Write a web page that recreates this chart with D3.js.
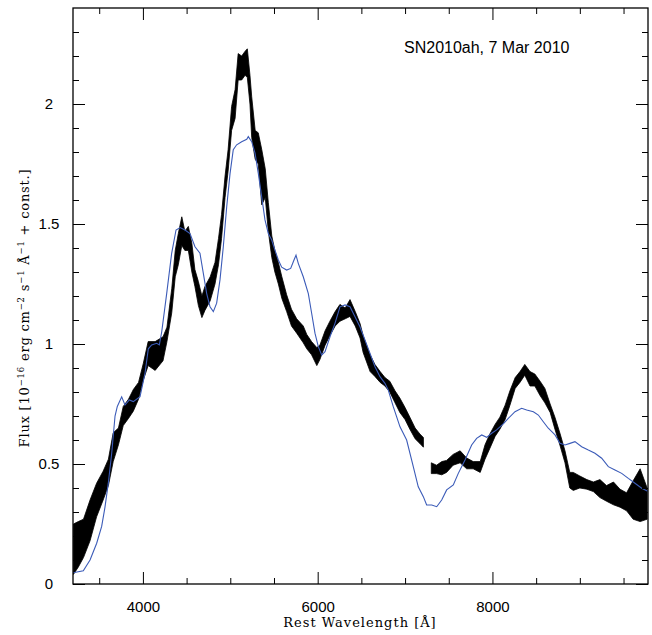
<!DOCTYPE html>
<html lang="en">
<head>
  <meta charset="UTF-8">
  <title>SN2010ah spectrum</title>
  <script src="https://cdn.jsdelivr.net/npm/d3@7.8.5/dist/d3.min.js"></script>
  <style>
    body { margin: 0; background: #fff; }
    .tick text { font-family: "Liberation Sans", Arial, sans-serif; font-size: 15px; fill: #000; }
    .tick line { stroke: #000; stroke-width: 1; }
    .lab { font-family: "DejaVu Serif", serif; font-size: 13px; }
  </style>
</head>
<body>
  <svg id="chart" width="652" height="635"></svg>
  <script>
    // observed spectrum: wavelength and the low/high edge of the noisy trace (null = gap)
    const specWave = [3205, 3260, 3320, 3395, 3470, 3545, 3605, 3660, 3720, 3775, 3835, 3890, 3950, 4005, 4060, 4140, 4230, 4275, 4330, 4370, 4405, 4445, 4480, 4520, 4560, 4595, 4635, 4675, 4710, 4770, 4825, 4865, 4900, 4940, 4975, 5015, 5055, 5090, 5130, 5170, 5195, 5225, 5245, 5285, 5320, 5360, 5400, 5435, 5475, 5510, 5550, 5590, 5645, 5700, 5760, 5835, 5875, 5930, 5990, 6025, 6085, 6140, 6200, 6255, 6315, 6370, 6430, 6485, 6520, 6600, 6655, 6715, 6770, 6825, 6885, 6940, 7000, 7055, 7115, 7170, 7210, 7255, 7300, 7360, 7420, 7475, 7550, 7630, 7705, 7780, 7860, 7915, 7970, 8030, 8085, 8145, 8200, 8260, 8315, 8370, 8430, 8485, 8545, 8600, 8660, 8715, 8775, 8830, 8885, 8925, 9000, 9080, 9155, 9230, 9305, 9385, 9460, 9535, 9610, 9690, 9770];
    const specLow = [0.04, 0.07, 0.11, 0.18, 0.28, 0.35, 0.41, 0.51, 0.58, 0.66, 0.69, 0.72, 0.77, 0.85, 0.91, 0.89, 0.93, 1.01, 1.13, 1.28, 1.33, 1.41, 1.39, 1.39, 1.30, 1.24, 1.16, 1.11, 1.14, 1.18, 1.25, 1.33, 1.44, 1.61, 1.72, 1.89, 1.94, 2.10, 2.10, 2.12, 2.11, 2.00, 1.86, 1.77, 1.75, 1.58, 1.61, 1.47, 1.36, 1.30, 1.25, 1.19, 1.135, 1.075, 1.045, 1.005, 0.98, 0.955, 0.91, 0.935, 0.995, 1.035, 1.075, 1.095, 1.105, 1.115, 1.075, 1.025, 0.965, 0.885, 0.865, 0.84, 0.825, 0.80, 0.755, 0.715, 0.685, 0.645, 0.605, 0.585, 0.57, null, 0.46, 0.46, 0.455, 0.465, 0.495, 0.505, 0.48, 0.48, 0.465, 0.52, 0.565, 0.615, 0.645, 0.685, 0.745, 0.815, 0.84, 0.87, 0.825, 0.825, 0.785, 0.755, 0.715, 0.645, 0.575, 0.505, 0.40, 0.39, 0.40, 0.395, 0.385, 0.36, 0.345, 0.33, 0.32, 0.305, 0.27, 0.26, 0.27];
    const specHigh = [0.25, 0.26, 0.27, 0.35, 0.42, 0.47, 0.52, 0.63, 0.65, 0.74, 0.77, 0.81, 0.84, 0.92, 1.01, 1.01, 1.03, 1.07, 1.23, 1.39, 1.46, 1.53, 1.47, 1.49, 1.42, 1.31, 1.26, 1.20, 1.24, 1.28, 1.34, 1.44, 1.54, 1.70, 1.81, 1.99, 2.06, 2.21, 2.20, 2.22, 2.23, 2.12, 2.03, 1.89, 1.88, 1.81, 1.73, 1.59, 1.45, 1.39, 1.34, 1.28, 1.205, 1.145, 1.105, 1.075, 1.04, 1.01, 0.985, 0.995, 1.055, 1.095, 1.135, 1.165, 1.15, 1.185, 1.135, 1.085, 1.035, 0.955, 0.915, 0.885, 0.86, 0.845, 0.805, 0.775, 0.735, 0.695, 0.65, 0.625, 0.61, null, 0.505, 0.495, 0.51, 0.515, 0.54, 0.555, 0.525, 0.51, 0.51, 0.58, 0.625, 0.665, 0.695, 0.745, 0.805, 0.86, 0.885, 0.915, 0.885, 0.875, 0.845, 0.815, 0.75, 0.695, 0.625, 0.555, 0.465, 0.465, 0.45, 0.435, 0.425, 0.435, 0.41, 0.425, 0.395, 0.38, 0.43, 0.48, 0.40];

    // model spectrum (blue)
    const modelWave = [3200, 3318, 3395, 3471, 3528, 3566, 3604, 3643, 3681, 3707, 3757, 3795, 3845, 3890, 3967, 4024, 4062, 4100, 4158, 4188, 4215, 4272, 4329, 4379, 4425, 4482, 4539, 4596, 4653, 4691, 4730, 4768, 4806, 4844, 4882, 4920, 4959, 4997, 5034, 5073, 5130, 5188, 5206, 5245, 5283, 5321, 5359, 5397, 5435, 5474, 5512, 5550, 5588, 5645, 5691, 5729, 5752, 5778, 5835, 5893, 5931, 5969, 6007, 6046, 6084, 6141, 6198, 6255, 6313, 6370, 6427, 6484, 6541, 6599, 6656, 6713, 6770, 6808, 6865, 6942, 7018, 7094, 7151, 7209, 7247, 7305, 7362, 7419, 7476, 7552, 7609, 7686, 7762, 7819, 7877, 7934, 7991, 8048, 8124, 8181, 8258, 8334, 8392, 8468, 8525, 8582, 8639, 8716, 8773, 8830, 8887, 8944, 9021, 9097, 9173, 9250, 9326, 9402, 9479, 9555, 9631, 9708, 9784];
    const modelFlux = [0.047, 0.055, 0.10, 0.17, 0.24, 0.32, 0.42, 0.545, 0.70, 0.74, 0.78, 0.746, 0.767, 0.76, 0.78, 0.878, 0.98, 0.996, 1.003, 0.996, 1.05, 1.21, 1.378, 1.475, 1.485, 1.475, 1.46, 1.405, 1.378, 1.295, 1.21, 1.155, 1.135, 1.17, 1.267, 1.405, 1.572, 1.71, 1.81, 1.83, 1.843, 1.853, 1.864, 1.843, 1.795, 1.71, 1.614, 1.517, 1.46, 1.433, 1.39, 1.35, 1.32, 1.308, 1.315, 1.35, 1.37, 1.336, 1.28, 1.21, 1.128, 1.045, 0.989, 0.954, 0.968, 1.03, 1.086, 1.155, 1.163, 1.155, 1.114, 1.072, 1.017, 0.961, 0.905, 0.864, 0.836, 0.808, 0.739, 0.655, 0.60, 0.489, 0.405, 0.364, 0.329, 0.329, 0.322, 0.35, 0.392, 0.4125, 0.461, 0.517, 0.579, 0.607, 0.621, 0.611, 0.628, 0.642, 0.667, 0.69, 0.718, 0.732, 0.725, 0.718, 0.704, 0.676, 0.649, 0.621, 0.586, 0.579, 0.586, 0.593, 0.572, 0.558, 0.545, 0.524, 0.489, 0.475, 0.461, 0.44, 0.42, 0.399, 0.385];

    const xMajorTicks = [4000, 6000, 8000];
    const xMinorTicks = [3500, 4500, 5000, 5500, 6500, 7000, 7500, 8500, 9000, 9500];
    const yMajorTicks = [0, 0.5, 1, 1.5, 2];
    const yMinorTicks = [0.1, 0.2, 0.3, 0.4, 0.6, 0.7, 0.8, 0.9, 1.1, 1.2, 1.3, 1.4, 1.6, 1.7, 1.8, 1.9, 2.1, 2.2, 2.3];

    const pLeft = 73, pRight = 648, pTop = 8, pBottom = 584;
    const svg = d3.select("#chart");
    const x = d3.scaleLinear().domain([3200, 9780]).range([pLeft, pRight]);
    const y = d3.scaleLinear().domain([0, 2.4]).range([pBottom, pTop]);

    svg.append("defs").append("clipPath").attr("id", "plotclip")
      .append("rect").attr("x", pLeft).attr("y", pTop).attr("width", pRight - pLeft).attr("height", pBottom - pTop);

    const plot = svg.append("g").attr("clip-path", "url(#plotclip)");

    const spec = specWave.map((w, i) => ({ w: w, lo: specLow[i], hi: specHigh[i] }));
    plot.append("path")
      .datum(spec)
      .attr("d", d3.area()
        .defined(d => d.lo !== null)
        .x(d => x(d.w))
        .y0(d => y(d.lo))
        .y1(d => y(d.hi)))
      .attr("fill", "#000")
      .attr("stroke", "#000")
      .attr("stroke-width", 0.8);

    const model = modelWave.map((w, i) => ({ w: w, f: modelFlux[i] }));
    plot.append("path")
      .datum(model)
      .attr("d", d3.line().x(d => x(d.w)).y(d => y(d.f)))
      .attr("fill", "none")
      .attr("stroke", "#3b5bb8")
      .attr("stroke-width", 1.1);

    // axes, ticks pointing inward on all four sides
    function addAxis(axis, tx, ty) {
      const g = svg.append("g").attr("transform", `translate(${tx},${ty})`).call(axis);
      g.select(".domain").remove();
      return g;
    }
    addAxis(d3.axisBottom(x).tickValues(xMajorTicks).tickSize(-12).tickPadding(17).tickFormat(d3.format("d")), 0, pBottom);
    addAxis(d3.axisBottom(x).tickValues(xMinorTicks).tickSize(-6).tickFormat(""), 0, pBottom);
    addAxis(d3.axisTop(x).tickValues(xMajorTicks).tickSize(-12).tickFormat(""), 0, pTop);
    addAxis(d3.axisTop(x).tickValues(xMinorTicks).tickSize(-6).tickFormat(""), 0, pTop);
    const yl = addAxis(d3.axisLeft(y).tickValues(yMajorTicks).tickSize(-12).tickFormat(d => d), pLeft, 0);
    yl.selectAll("text").attr("text-anchor", "middle").attr("x", -24);
    addAxis(d3.axisLeft(y).tickValues(yMinorTicks).tickSize(-6).tickFormat(""), pLeft, 0);
    addAxis(d3.axisRight(y).tickValues(yMajorTicks).tickSize(-12).tickFormat(""), pRight, 0);
    addAxis(d3.axisRight(y).tickValues(yMinorTicks).tickSize(-6).tickFormat(""), pRight, 0);

    svg.append("rect")
      .attr("x", pLeft).attr("y", pTop)
      .attr("width", pRight - pLeft).attr("height", pBottom - pTop)
      .attr("fill", "none").attr("stroke", "#000").attr("stroke-width", 1.3);

    // labels
    svg.append("text")
      .attr("class", "lab")
      .attr("x", 360).attr("y", 627)
      .attr("text-anchor", "middle")
      .style("letter-spacing", "1px")
      .text("Rest Wavelength [Å]");

    const ylab = svg.append("text")
      .attr("class", "lab")
      .attr("transform", "translate(29,308) rotate(-90)")
      .attr("text-anchor", "middle")
      .style("letter-spacing", "0.8px");
    const parts = [["Flux [10", ""], ["−16", "sup"], [" erg cm", ""], ["−2", "sup"], [" s", ""], ["−1", "sup"], [" Å", ""], ["−1", "sup"], [" + const.]", ""]];
    parts.forEach(p => {
      const t = ylab.append("tspan").text(p[0]);
      if (p[1] === "sup") t.attr("baseline-shift", "super").style("font-size", "8.5px");
    });

    svg.append("text")
      .attr("x", 404).attr("y", 53)
      .style("font-family", "'Liberation Sans', Arial, sans-serif")
      .style("font-size", "16px")
      .text("SN2010ah, 7 Mar 2010");
  </script>
</body>
</html>
